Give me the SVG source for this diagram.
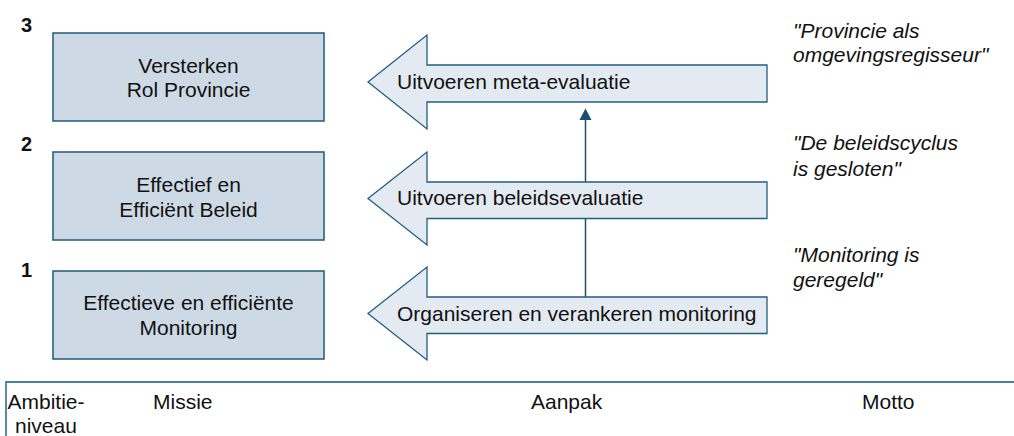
<svg xmlns="http://www.w3.org/2000/svg" width="1014" height="436" viewBox="0 0 1014 436">
<style>
text{font-family:"Liberation Sans",Arial,sans-serif;fill:#111;font-size:21px}
.box{fill:#cdd9e5;stroke:#1f5a78;stroke-width:1.5}
.arrow{fill:#e4eaf1;stroke:#1f5f80;stroke-width:1.3}
.num{font-weight:bold;font-size:20px}
.motto{font-style:italic}
.mid{text-anchor:middle}
.conn{stroke:#1a5070;stroke-width:1.5;fill:none}
.frame{stroke:#4a7f9a;stroke-width:1.8;fill:none}
</style>
<defs>
<marker id="ah" markerWidth="12" markerHeight="12" refX="6" refY="11" orient="auto" markerUnits="userSpaceOnUse" viewBox="0 0 12 12">
<path d="M0,12 L6,0 L12,12 Z" fill="#1a5070"/>
</marker>
</defs>
<rect width="1014" height="436" fill="#fff"/>
<g id="connectors">
<line class="conn" x1="585.5" y1="297" x2="585.5" y2="120"/>
<path d="M579.5,120 L585.5,108.5 L591.5,120 Z" fill="#1a5070"/>
</g>
<g id="level3">
<text class="num" x="21" y="32">3</text>
<rect class="box" x="53" y="33" width="271" height="88"/>
<text class="mid" x="188.5" y="72.5">Versterken</text>
<text class="mid" x="188.5" y="96.5">Rol Provincie</text>
</g>
<g id="level2">
<text class="num" x="21" y="151">2</text>
<rect class="box" x="53" y="152" width="271" height="88"/>
<text class="mid" x="188.5" y="191.5">Effectief en</text>
<text class="mid" x="188.5" y="216.5">Efficiënt Beleid</text>
</g>
<g id="level1">
<text class="num" x="21" y="277">1</text>
<rect class="box" x="53" y="271" width="271" height="88"/>
<text class="mid" x="188.5" y="310">Effectieve en efficiënte</text>
<text class="mid" x="188.5" y="335">Monitoring</text>
</g>
<g id="arrow-meta">
<polygon class="arrow" points="368,82 427,35 427,65 767,65 767,102 427,102 427,129"/>
<text x="397" y="88.5">Uitvoeren meta-evaluatie</text>
</g>
<g id="arrow-beleid">
<polygon class="arrow" points="368,198.5 427,152 427,182 767,182 767,218.5 427,218.5 427,245"/>
<text x="397" y="204.5">Uitvoeren beleidsevaluatie</text>
</g>
<g id="arrow-monitoring">
<polygon class="arrow" points="368,313.5 427,267 427,297 767,297 767,333.5 427,333.5 427,360"/>
<text x="397" y="321">Organiseren en verankeren monitoring</text>
</g>
<g id="motto3">
<text class="motto" x="793" y="37.5">"Provincie als</text>
<text class="motto" x="793" y="62">omgevingsregisseur"</text>
</g>
<g id="motto2">
<text class="motto" x="793" y="150">"De beleidscyclus</text>
<text class="motto" x="793" y="175.5">is gesloten"</text>
</g>
<g id="motto1">
<text class="motto" x="793" y="262">"Monitoring is</text>
<text class="motto" x="793" y="287">geregeld"</text>
</g>
<g id="legend">
<path class="frame" d="M6,436 L6,382 L1014,382"/>
<text x="7.5" y="409">Ambitie-</text>
<text x="15" y="433">niveau</text>
<text x="153" y="409">Missie</text>
<text x="531" y="409">Aanpak</text>
<text x="862" y="409">Motto</text>
</g>
</svg>
